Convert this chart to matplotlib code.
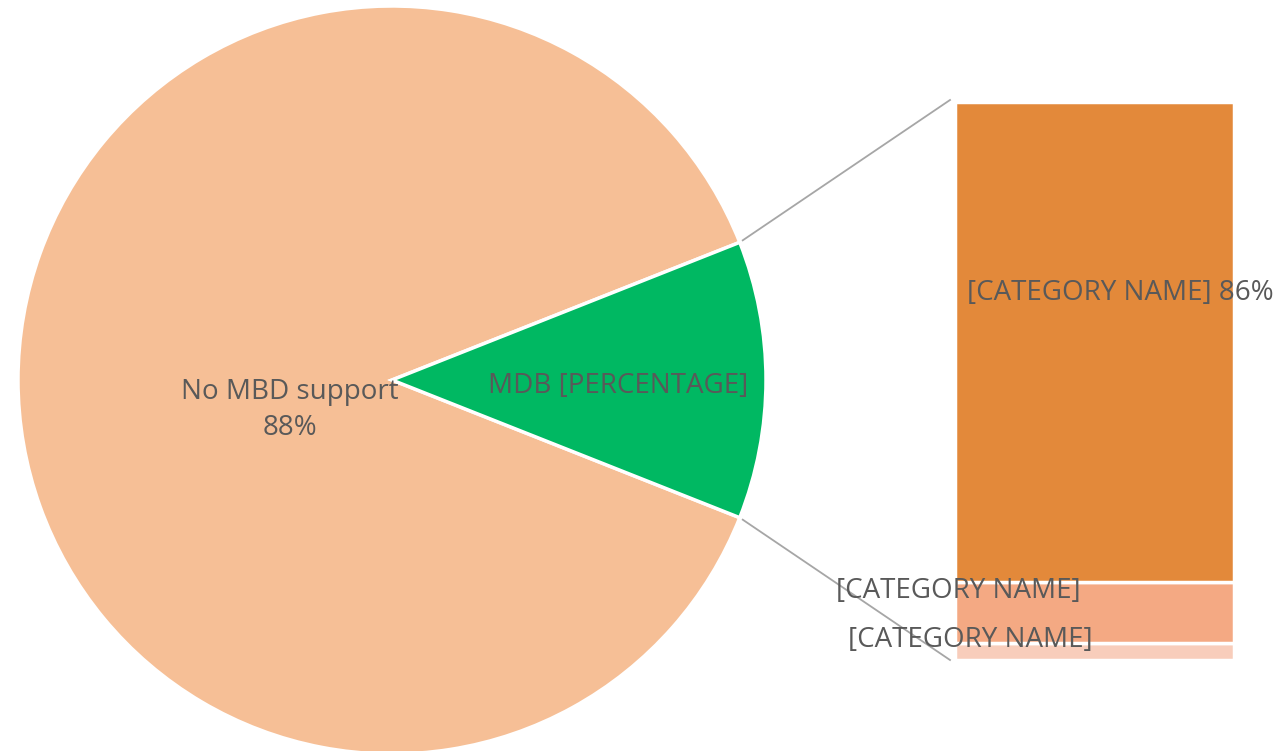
import numpy as np
import matplotlib.pyplot as plt

# pie: share with / without support
pie_labels = ["No MBD support\n88%", "MDB [PERCENTAGE]"]
pie_values = [88, 12]
pie_colors = ["#F6BF96", "#00B862"]

# bar: breakdown of the MDB slice (bottom to top)
bar_labels = ["[CATEGORY NAME]", "[CATEGORY NAME]", "[CATEGORY NAME] 86%"]
bar_values = [3, 11, 86]
bar_colors = ["#F8CDBB", "#F4A983", "#E3893A"]

text_color = "#595959"
plt.rcParams['font.family'] = ['Open Sans', 'DejaVu Sans']

fig = plt.figure(figsize=(12.81, 7.51), dpi=100)
ax = fig.add_axes([0, 0, 1, 1])

cx, cy, r = 392, 371, 374
half = pie_values[1] / sum(pie_values) * 180
ax.pie(pie_values, colors=pie_colors, center=(cx, cy), radius=r,
       startangle=half, counterclock=True,
       wedgeprops=dict(edgecolor="white", linewidth=2.5), frame=True)
ax.set_xlim(0, 1281)
ax.set_ylim(0, 751)
ax.set_aspect('equal')
ax.axis('off')

ax.text(290, 341, pie_labels[0], ha="center", va="center", fontsize=20,
        color=text_color, linespacing=1.4)
ax.text(618, 365, pie_labels[1], ha="center", va="center", fontsize=20,
        color=text_color)

# stacked bar of the MDB breakdown
bar_x0, bar_w = 955, 279
bar_bottom, bar_h = 91, 558
scale = bar_h / sum(bar_values)
bottom = bar_bottom
tops = []
for v, c in zip(bar_values, bar_colors):
    ax.bar(bar_x0, v * scale, width=bar_w, bottom=bottom, align="edge",
           color=c, edgecolor="white", linewidth=2.5, zorder=2)
    tops.append(bottom + v * scale)
    bottom += v * scale

# connector lines from the MDB slice to the bar
a = np.deg2rad(half)
p_top = (cx + r * np.cos(a), cy + r * np.sin(a))
p_bot = (cx + r * np.cos(a), cy - r * np.sin(a))
ax.plot([p_top[0] + 3, bar_x0 - 5], [p_top[1] + 2, tops[-1] + 2],
        color="#A6A6A6", lw=1.3, zorder=1)
ax.plot([p_bot[0] + 3, bar_x0 - 5], [p_bot[1] - 2, bar_bottom],
        color="#A6A6A6", lw=1.3, zorder=1)

label_pos = [(970, 111), (958, 160), (1120, 458)]
for (x, y), lab in zip(label_pos, bar_labels):
    ax.text(x, y, lab, ha="center", va="center", fontsize=20,
            color=text_color, zorder=3)

fig.savefig("out.png", dpi=100)
